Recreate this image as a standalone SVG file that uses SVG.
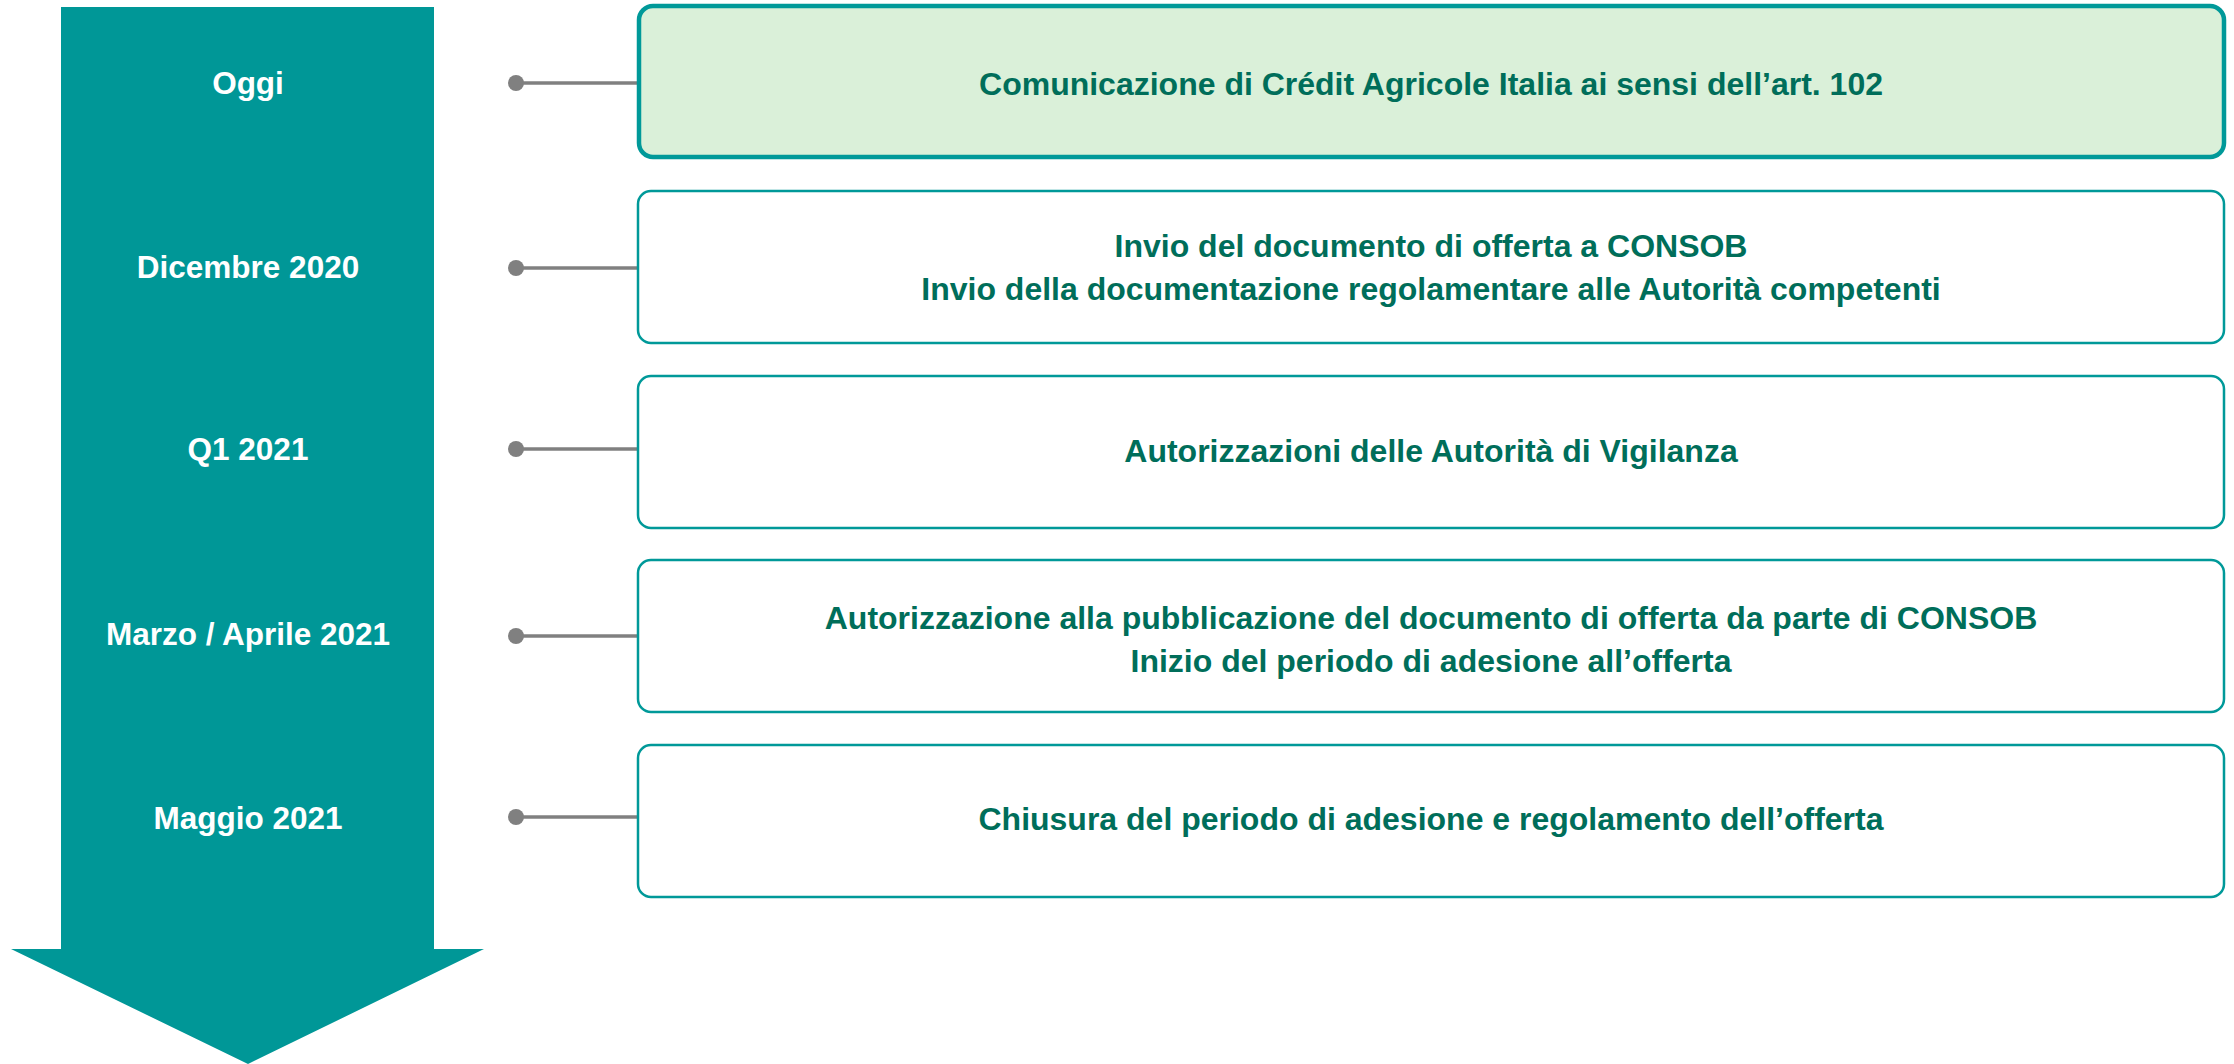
<svg xmlns="http://www.w3.org/2000/svg" width="2234" height="1064" viewBox="0 0 2234 1064">
<style>
.box{fill:#ffffff;stroke:#009999;stroke-width:2.5}
.hl{fill:#daf0d9;stroke:#009999;stroke-width:4.5}
.t{font-family:"Liberation Sans",Arial,sans-serif;font-weight:bold;font-size:32px;fill:#006e5a;text-anchor:middle}
.l{font-family:"Liberation Sans",Arial,sans-serif;font-weight:bold;font-size:31.5px;fill:#ffffff;text-anchor:middle}
.c{stroke:#808080;stroke-width:3.5;fill:none}
.d{fill:#808080}
</style>
<g id="timeline-arrow">
<polygon points="61,7 434,7 434,949 484,949 248,1064 11,949 61,949" fill="#009797"/>
<text class="l" x="248" y="94">Oggi</text>
<text class="l" x="248" y="278">Dicembre 2020</text>
<text class="l" x="248" y="460">Q1 2021</text>
<text class="l" x="248" y="645">Marzo / Aprile 2021</text>
<text class="l" x="248" y="829">Maggio 2021</text>
</g>
<g id="connectors">
<line class="c" x1="516" y1="83" x2="638" y2="83"/><circle class="d" cx="516" cy="83" r="8"/>
<line class="c" x1="516" y1="268" x2="638" y2="268"/><circle class="d" cx="516" cy="268" r="8"/>
<line class="c" x1="516" y1="449" x2="638" y2="449"/><circle class="d" cx="516" cy="449" r="8"/>
<line class="c" x1="516" y1="636" x2="638" y2="636"/><circle class="d" cx="516" cy="636" r="8"/>
<line class="c" x1="516" y1="817" x2="638" y2="817"/><circle class="d" cx="516" cy="817" r="8"/>
</g>
<g id="node-oggi">
<rect class="hl" x="639" y="6" width="1585" height="151" rx="14"/>
<text class="t" x="1431" y="95">Comunicazione di Crédit Agricole Italia ai sensi dell’art. 102</text>
</g>
<g id="node-dicembre">
<rect class="box" x="638" y="191" width="1586" height="152" rx="13"/>
<text class="t" x="1431" y="257">Invio del documento di offerta a CONSOB</text>
<text class="t" x="1431" y="300">Invio della documentazione regolamentare alle Autorità competenti</text>
</g>
<g id="node-q1">
<rect class="box" x="638" y="376" width="1586" height="152" rx="13"/>
<text class="t" x="1431" y="462">Autorizzazioni delle Autorità di Vigilanza</text>
</g>
<g id="node-marzo">
<rect class="box" x="638" y="560" width="1586" height="152" rx="13"/>
<text class="t" x="1431" y="629">Autorizzazione alla pubblicazione del documento di offerta da parte di CONSOB</text>
<text class="t" x="1431" y="672">Inizio del periodo di adesione all’offerta</text>
</g>
<g id="node-maggio">
<rect class="box" x="638" y="745" width="1586" height="152" rx="13"/>
<text class="t" x="1431" y="830">Chiusura del periodo di adesione e regolamento dell’offerta</text>
</g>
</svg>
